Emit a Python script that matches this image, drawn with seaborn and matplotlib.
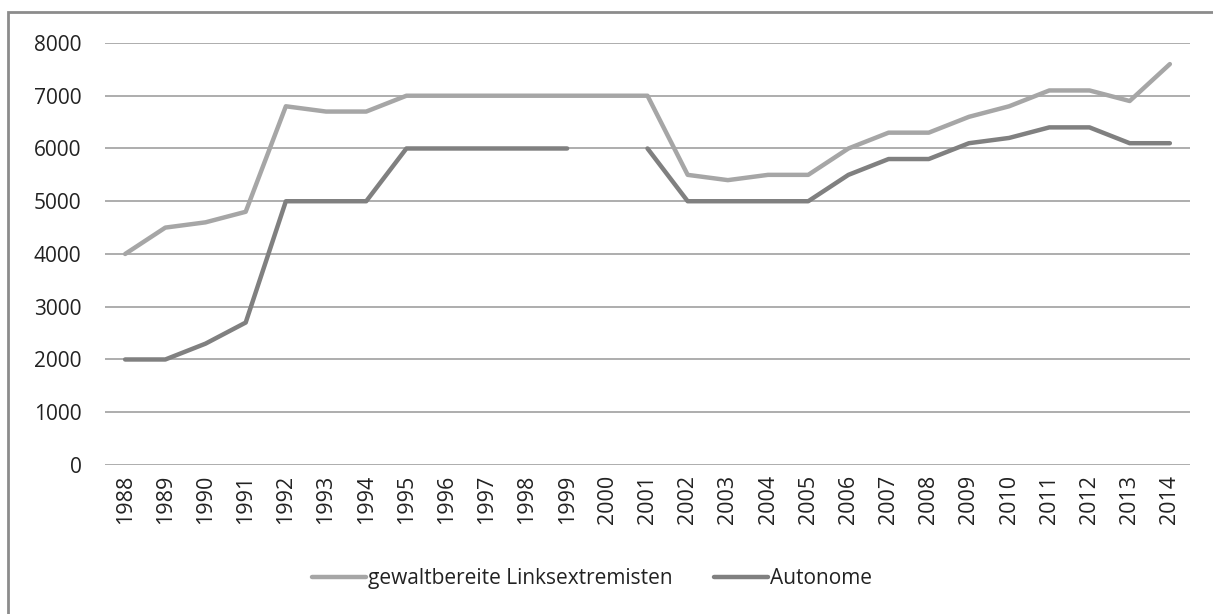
import numpy as np
import pandas as pd
import matplotlib.pyplot as plt
import seaborn as sns
from matplotlib.patches import Rectangle

# Daten
jahre = list(range(1988, 2015))
linksextremisten = [4000, 4500, 4600, 4800, 6800, 6700, 6700, 7000, 7000, 7000,
                    7000, 7000, 7000, 7000, 5500, 5400, 5500, 5500, 6000, 6300,
                    6300, 6600, 6800, 7100, 7100, 6900, 7600]
autonome = [2000, 2000, 2300, 2700, 5000, 5000, 5000, 6000, 6000, 6000,
            6000, 6000, np.nan, 6000, 5000, 5000, 5000, 5000, 5500, 5800,
            5800, 6100, 6200, 6400, 6400, 6100, 6100]

name_a = 'gewaltbereite Linksextremisten'
name_b = 'Autonome'
farben = {name_a: '#A6A6A6', name_b: '#808080'}


def to_long(werte, name):
    df = pd.DataFrame({'idx': np.arange(len(jahre)), 'wert': werte, 'serie': name})
    # Lücken als eigene Segmente, damit die Linie dort unterbrochen ist
    df['seg'] = name + df['wert'].isna().cumsum().astype(str)
    return df.dropna()


daten = pd.concat([to_long(linksextremisten, name_a), to_long(autonome, name_b)],
                  ignore_index=True)

sns.set_style('white')
plt.rcParams['font.family'] = ['Open Sans', 'DejaVu Sans']

fig = plt.figure(figsize=(12.13, 6.14), dpi=100)
ax = fig.add_axes([0.0866, 0.2427, 0.8944, 0.6873])

sns.lineplot(data=daten, x='idx', y='wert', hue='serie', units='seg',
             estimator=None, palette=farben, linewidth=3.2, ax=ax,
             hue_order=[name_a, name_b])

ax.set_xlim(-0.5, len(jahre) - 0.5)
ax.set_ylim(0, 8000)
ax.set_yticks(range(0, 8001, 1000))
ax.set_xticks(range(len(jahre)))
ax.set_xticklabels([str(j) for j in jahre], rotation=90)
ax.tick_params(axis='both', length=0, colors='#222222')
ax.tick_params(axis='y', pad=17, labelsize=15)
ax.tick_params(axis='x', pad=7, labelsize=15.5)
ax.set_xlabel('')
ax.set_ylabel('')
ax.yaxis.grid(True, color='#A0A0A0', linewidth=1.2)
ax.xaxis.grid(False)
for s in ax.spines.values():
    s.set_visible(False)

ax.legend_.remove()
handles, labels = ax.get_legend_handles_labels()
fig.legend(handles, labels, loc='center', bbox_to_anchor=(0.488, 0.058), ncol=2,
           frameon=False, fontsize=15, handlelength=2.6, handletextpad=0.1,
           columnspacing=2.0, labelcolor='#222222')

# Rahmen um das Diagramm
fig.patches.append(Rectangle((8 / 1213, -0.05), 1.1, 1 - 12 / 614 + 0.05,
                             transform=fig.transFigure, fill=False,
                             edgecolor='#8C8C8C', linewidth=2))

fig.savefig('out.png', dpi=100)
